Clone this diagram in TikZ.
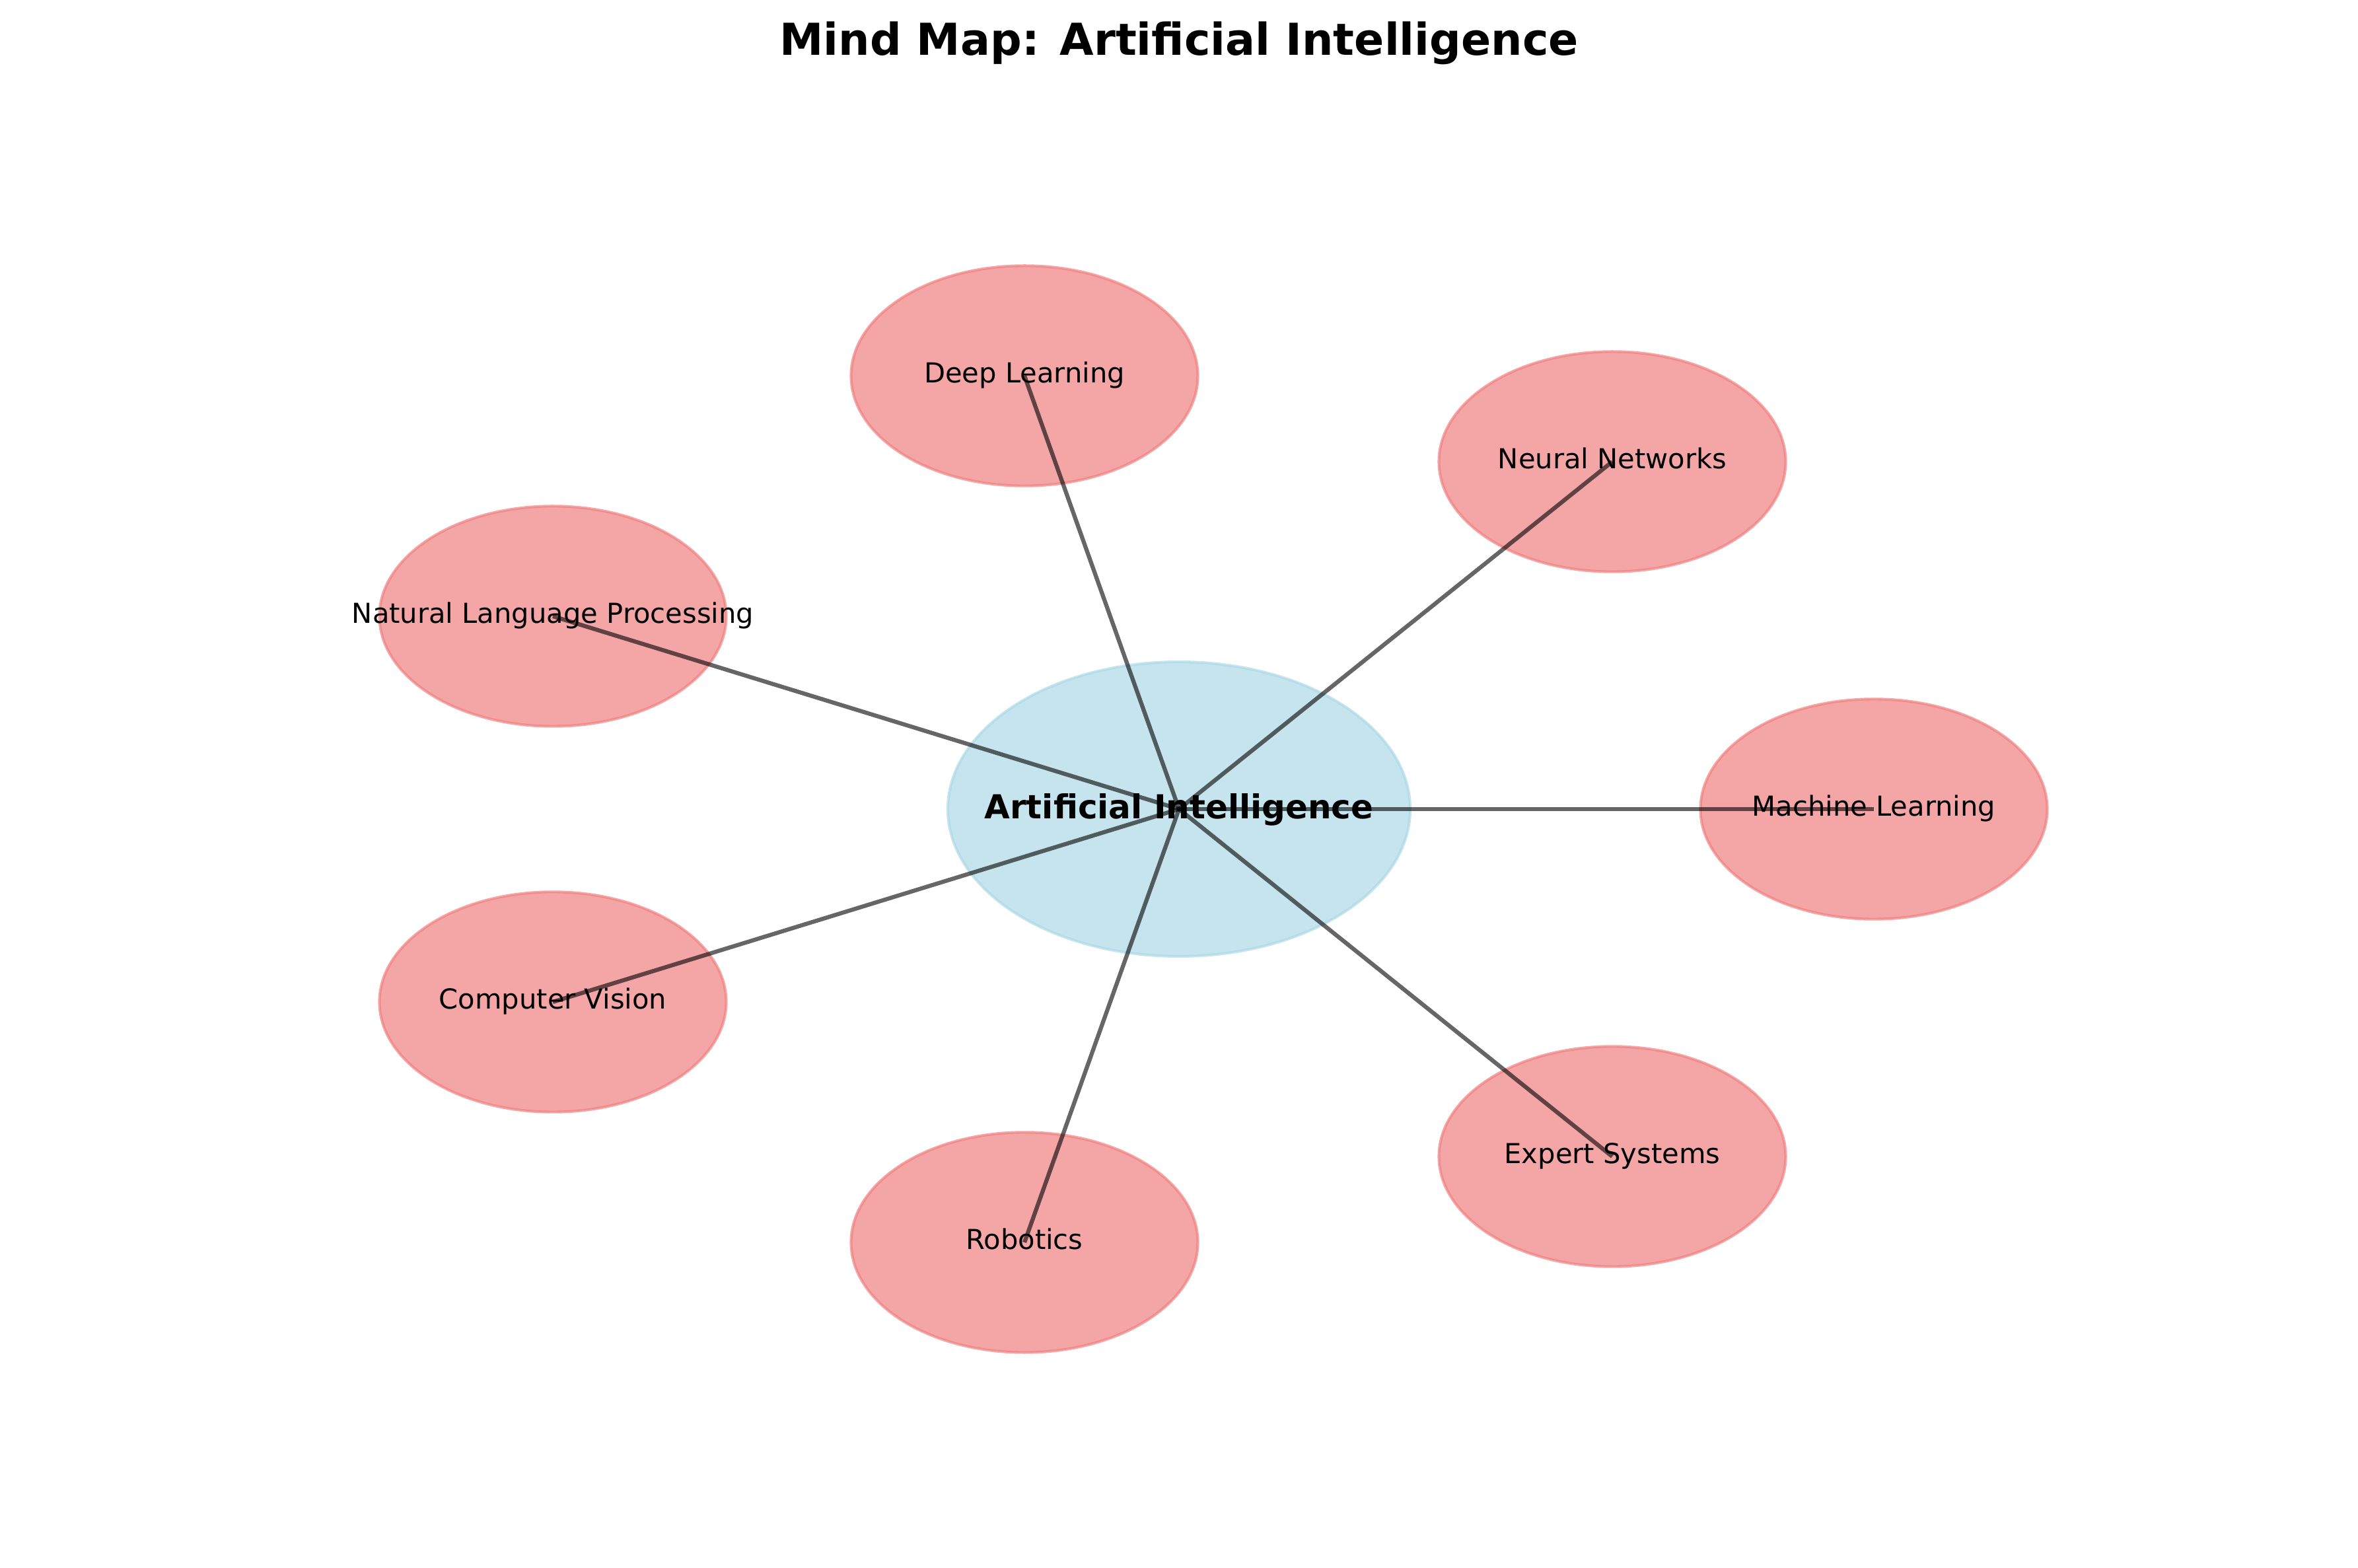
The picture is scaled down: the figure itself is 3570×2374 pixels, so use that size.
\documentclass[tikz,border=0pt]{standalone}
\usepackage{fontspec}
\setmainfont{DejaVu Sans}
\usetikzlibrary{shapes.geometric}
\definecolor{lblue}{RGB}{173,216,230}
\definecolor{lcoral}{RGB}{240,128,128}
\tikzset{
  hub/.style={ellipse, minimum width=168pt, minimum height=107pt, inner sep=0pt,
    fill=lblue, draw=lblue, fill opacity=0.7, draw opacity=0.7, line width=1pt},
  leaf/.style={ellipse, minimum width=126pt, minimum height=80pt, inner sep=0pt,
    fill=lcoral, draw=lcoral, fill opacity=0.7, draw opacity=0.7, line width=1pt},
  link/.style={draw=black, draw opacity=0.6, line width=1.5pt},
  leaflabel/.style={anchor=base, inner sep=0pt, font=\fontsize{10pt}{12pt}\selectfont},
  hublabel/.style={anchor=base, inner sep=0pt, font=\fontsize{12pt}{14pt}\selectfont\bfseries},
}
\begin{document}
\begin{tikzpicture}[x=0.24pt,y=-0.24pt]
\useasboundingbox (0,0) rectangle (3570,2374);
% ellipses
\node[hub] (ai) at (1785,1225) {};
\node[leaf] (ml) at (2837,1225) {};
\node[leaf] (nn) at (2441,699) {};
\node[leaf] (dl) at (1551,569) {};
\node[leaf] (nlp) at (837,933) {};
\node[leaf] (cv) at (837,1517) {};
\node[leaf] (rob) at (1551,1881) {};
\node[leaf] (es) at (2441,1751) {};
% connectors
\foreach \n in {ml,nn,dl,nlp,cv,rob,es}
  \draw[link] (ai.center) -- (\n.center);
% labels
\node[hublabel] (tai) at ([yshift=-3.4pt]ai.center) {Artificial Intelligence};
\node[leaflabel] (tml) at ([yshift=-2.6pt]ml.center) {Machine Learning};
\node[leaflabel] (tnn) at ([yshift=-2.6pt]nn.center) {Neural Networks};
\node[leaflabel] (tdl) at ([yshift=-2.6pt]dl.center) {Deep Learning};
\node[leaflabel] (tnlp) at ([yshift=-2.6pt]nlp.center) {Natural Language Processing};
\node[leaflabel] (tcv) at ([yshift=-2.6pt]cv.center) {Computer Vision};
\node[leaflabel] (trob) at ([yshift=-2.6pt]rob.center) {Robotics};
\node[leaflabel] (tes) at ([yshift=-2.6pt]es.center) {Expert Systems};
% title
\node[anchor=base, inner sep=0pt, font=\fontsize{16pt}{19pt}\selectfont\bfseries] (title) at (1785,84) {Mind Map: Artificial Intelligence};
\end{tikzpicture}
\end{document}
